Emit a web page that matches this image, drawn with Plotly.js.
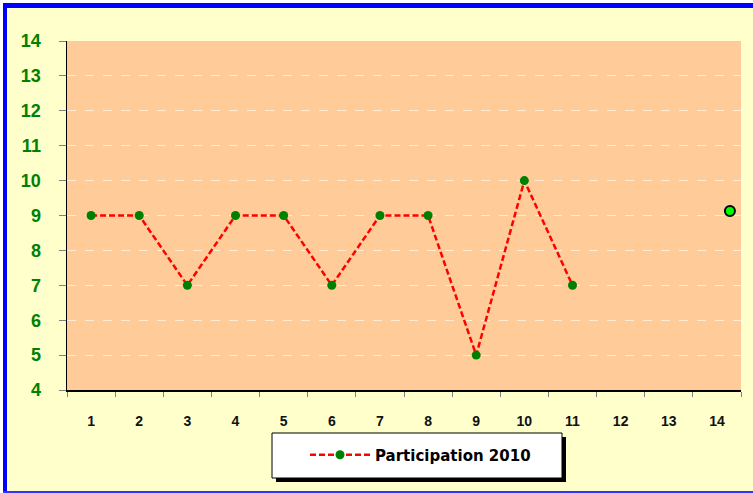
<!DOCTYPE html>
<html>
<head>
<meta charset="utf-8">
<script src="https://cdn.plot.ly/plotly-3.0.1.min.js"></script>
<style>
  html, body { margin: 0; padding: 0; background: #ffffff; }
  #wrap { position: relative; width: 753px; height: 493px; overflow: hidden; }
  #chart { position: absolute; left: 0; top: 0; width: 753px; height: 493px; }
  .ov { position: absolute; pointer-events: none; }
</style>
</head>
<body>
<div id="wrap">
  <div id="chart"></div>
  <div class="ov" style="left:0;top:0;width:753px;height:3px;background:#ffffff;"></div>
  <div class="ov" style="left:0;top:0;width:3px;height:493px;background:#ffffff;"></div>
  <div class="ov" style="left:3px;top:3px;width:750px;height:5px;background:#0000ff;"></div>
  <div class="ov" style="left:3px;top:3px;width:4px;height:490px;background:#0000ff;"></div>
  <div class="ov" style="left:3px;top:491px;width:750px;height:2px;background:#3333ff;"></div>
</div>
<script>
// Data
const categories = [1, 2, 3, 4, 5, 6, 7, 8, 9, 10, 11, 12, 13, 14];
const categoryLabels = ["1","2","3","4","5","6","7","8","9","10","11","12","13","14"];
const participationX = [1, 2, 3, 4, 5, 6, 7, 8, 9, 10, 11];
const participation2010 = [9, 9, 7, 9, 9, 7, 9, 9, 5, 10, 7];
const extraX = [14.27];
const extraY = [9.13];
const seriesName = "Participation 2010";

// Plot geometry helpers (pixel -> paper fraction)
const L = 67, R = 741, T = 41, B = 390;
const px = v => (v - L) / (R - L);
const py = v => (B - v) / (B - T);

const traces = [
  {
    x: participationX,
    y: participation2010,
    name: seriesName,
    type: "scatter",
    mode: "lines+markers",
    line: { color: "#ff0000", width: 2.5, dash: "6px,3px" },
    marker: { color: "#008000", size: 9 },
    showlegend: true
  },
  {
    x: extraX,
    y: extraY,
    type: "scatter",
    mode: "markers",
    marker: { color: "#00ff00", size: 10, line: { color: "#000000", width: 2 } },
    showlegend: false
  }
];

const layout = {
  width: 753,
  height: 493,
  margin: { l: L, r: 753 - R, t: T, b: 493 - B, pad: 0 },
  paper_bgcolor: "#ffffcc",
  plot_bgcolor: "#ffcc99",
  showlegend: true,
  xaxis: {
    type: "linear",
    range: [0.5, 14.5],
    tickmode: "array",
    tickvals: categories,
    ticktext: categoryLabels,
    ticks: "",
    ticklen: 0,
    ticklabelstandoff: 18,
    minor: { tick0: 0.5, dtick: 1, ticks: "outside", ticklen: 5, tickcolor: "#808080", tickwidth: 1, showgrid: false },
    showline: true,
    linecolor: "#000000",
    linewidth: 1.5,
    showgrid: false,
    zeroline: false,
    tickfont: { family: "Liberation Sans, Arial, sans-serif", size: 14, color: "#111111", weight: "bold" },
    fixedrange: true
  },
  yaxis: {
    range: [4, 14],
    dtick: 1,
    tick0: 4,
    ticks: "outside",
    ticklen: 7,
    tickcolor: "#808080",
    tickwidth: 1,
    ticklabelstandoff: 14,
    showline: true,
    linecolor: "#000000",
    linewidth: 1.5,
    showgrid: true,
    gridcolor: "rgba(255,240,220,0.9)",
    griddash: "dash",
    gridwidth: 1,
    zeroline: false,
    tickfont: { family: "Liberation Sans, Arial, sans-serif", size: 18, color: "#008000", weight: "bold" },
    fixedrange: true
  },
  legend: {
    x: px(305),
    y: py(455),
    xanchor: "left",
    yanchor: "middle",
    itemwidth: 60,
    bgcolor: "rgba(0,0,0,0)",
    borderwidth: 0,
    font: { family: "DejaVu Sans, sans-serif", size: 15, color: "#000000", weight: "bold" }
  },
  shapes: [
    {
      type: "rect", xref: "paper", yref: "paper",
      x0: px(276), x1: px(566), y0: py(437), y1: py(482),
      fillcolor: "#000000", line: { width: 0 }, layer: "above"
    },
    {
      type: "rect", xref: "paper", yref: "paper",
      x0: px(272), x1: px(562), y0: py(433), y1: py(478),
      fillcolor: "#ffffff", line: { color: "#000000", width: 1 }, layer: "above"
    }
  ]
};

Plotly.newPlot("chart", traces, layout, { staticPlot: true, displayModeBar: false });
</script>
</body>
</html>
